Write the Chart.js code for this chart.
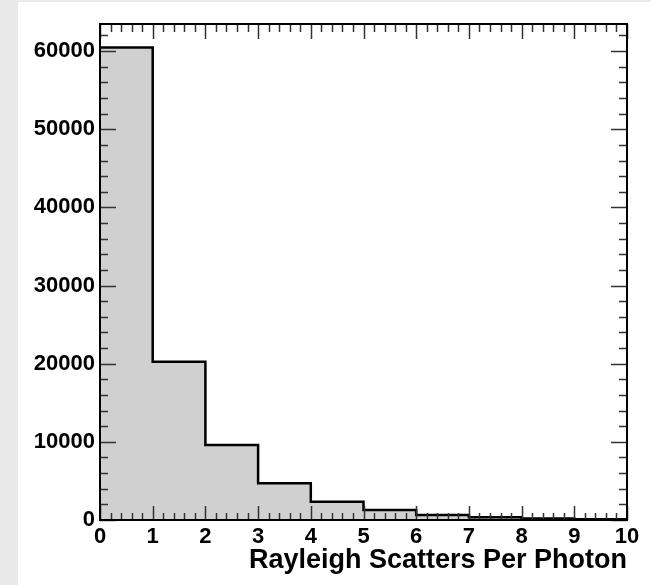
<!DOCTYPE html>
<html>
<head>
<meta charset="utf-8">
<script src="https://cdn.jsdelivr.net/npm/chart.js@4/dist/chart.umd.min.js"></script>
<style>
  html, body { margin: 0; padding: 0; background: #e9e9e9; }
  #c { display: block; }
</style>
</head>
<body>
<canvas id="c" width="651" height="585"></canvas>
<script>
// ---- data ----
const binEdges = [0, 1, 2, 3, 4, 5, 6, 7, 8, 9, 10];
const counts = [60450, 20250, 9600, 4700, 2350, 1280, 650, 340, 200, 90];
const xTickLabels = [0, 1, 2, 3, 4, 5, 6, 7, 8, 9, 10];
const yTickLabels = [0, 10000, 20000, 30000, 40000, 50000, 60000];
const xTitle = 'Rayleigh Scatters Per Photon';

// step outline points built from bin edges and counts
const stepPoints = binEdges.map((e, i) => ({ x: e, y: counts[Math.min(i, counts.length - 1)] }));

const FONT = '"Liberation Sans", Arial, Helvetica, sans-serif';

const bgPlugin = {
  id: 'bg',
  beforeDraw(chart) {
    const ctx = chart.ctx;
    ctx.save();
    ctx.fillStyle = '#e9e9e9';
    ctx.fillRect(0, 0, chart.width, chart.height);
    ctx.fillStyle = '#ffffff';
    ctx.fillRect(18, 2, chart.width - 18, chart.height - 2);
    ctx.restore();
  }
};

const framePlugin = {
  id: 'frame',
  afterDraw(chart) {
    const ctx = chart.ctx;
    const xs = chart.scales.x, ys = chart.scales.y;
    const a = chart.chartArea;
    ctx.save();
    ctx.strokeStyle = '#333';
    ctx.lineWidth = 1.5;
    ctx.beginPath();
    for (let v = xs.min; v <= xs.max + 1e-9; v += 0.2) {
      const major = Math.abs(v - Math.round(v)) < 1e-6;
      const px = Math.round(xs.getPixelForValue(v)) + 0.5;
      const lb = major ? 14 : 7, lt = major ? 15 : 8;
      ctx.moveTo(px, a.bottom); ctx.lineTo(px, a.bottom - lb);
      ctx.moveTo(px, a.top); ctx.lineTo(px, a.top + lt);
    }
    for (let v = ys.min; v <= ys.max; v += 2000) {
      const major = v % 10000 === 0;
      const py = Math.round(ys.getPixelForValue(v)) + 0.5;
      const ll = major ? 16 : 8, lr = major ? 16 : 8;
      ctx.moveTo(a.left, py); ctx.lineTo(a.left + ll, py);
      ctx.moveTo(a.right, py); ctx.lineTo(a.right - lr, py);
    }
    ctx.stroke();
    ctx.strokeStyle = '#000';
    ctx.lineWidth = 2;
    ctx.strokeRect(a.left, a.top, a.right - a.left, a.bottom - a.top);
    ctx.restore();
  }
};

new Chart(document.getElementById('c'), {
  type: 'line',
  data: {
    datasets: [{
      data: stepPoints,
      stepped: 'before',
      fill: 'origin',
      backgroundColor: '#d0d0d0',
      borderColor: '#000',
      borderWidth: 2.5,
      pointRadius: 0,
      tension: 0,
      clip: false
    }]
  },
  options: {
    responsive: false,
    animation: false,
    devicePixelRatio: 1,
    layout: { padding: { left: 0, top: 24, right: 24, bottom: 0 } },
    plugins: { legend: { display: false }, tooltip: { enabled: false } },
    scales: {
      x: {
        type: 'linear', min: 0, max: 10,
        grid: { display: false, drawTicks: false }, border: { display: false },
        afterBuildTicks: s => { s.ticks = xTickLabels.map(v => ({ value: v })); },
        afterFit: s => { s.height = 65; },
        ticks: { padding: 4, color: '#000', maxRotation: 0, autoSkip: false,
                 font: { family: FONT, size: 22, weight: 'bold' } },
        title: { display: true, text: xTitle, align: 'end', color: '#000',
                 font: { family: FONT, size: 27, weight: 'bold' },
                 padding: { top: 0, bottom: 8 } }
      },
      y: {
        min: 0, max: 63470,
        grid: { display: false, drawTicks: false }, border: { display: false },
        afterBuildTicks: s => { s.ticks = yTickLabels.map(v => ({ value: v })); },
        afterFit: s => { s.width = 100; },
        ticks: { padding: 5, color: '#000',
                 font: { family: FONT, size: 22, weight: 'bold' },
                 callback: v => String(v) }
      }
    }
  },
  plugins: [bgPlugin, framePlugin]
});
</script>
</body>
</html>
